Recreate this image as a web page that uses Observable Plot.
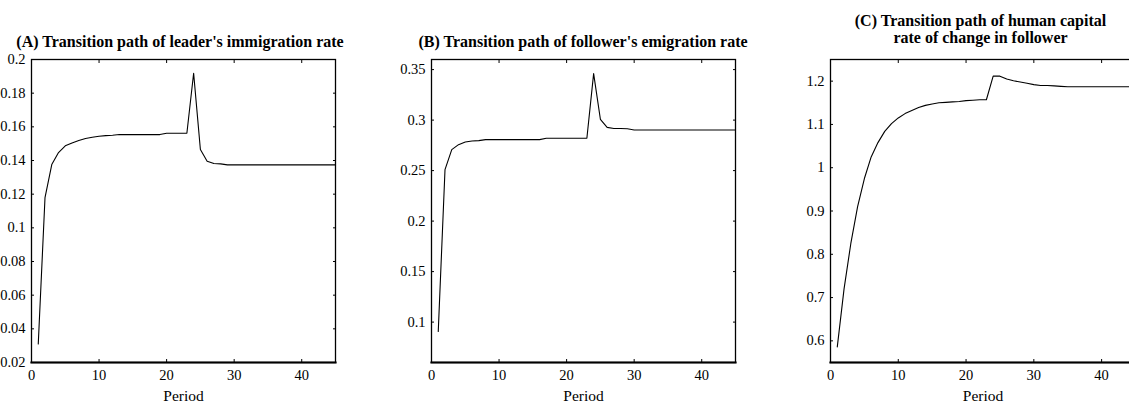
<!DOCTYPE html>
<html>
<head>
<meta charset="utf-8">
<script src="https://cdn.jsdelivr.net/npm/d3@7"></script>
<script src="https://cdn.jsdelivr.net/npm/@observablehq/plot@0.6"></script>
<style>
html, body { margin: 0; padding: 0; background: #fff; }
#wrap { position: relative; width: 1129px; height: 406px; overflow: hidden; background: #fff;
  font-family: "Liberation Serif", "Times New Roman", serif; color: #000; }
.panel { position: absolute; top: 0; }
.title { position: absolute; width: 500px; font-weight: bold; font-size: 16px; line-height: 16.6px;
  text-align: center; white-space: nowrap; font-family: "Liberation Serif", "Times New Roman", serif; }
</style>
</head>
<body>
<div id="wrap"></div>
<script>
// ---- data ----
const periods = d3.range(1, 46);
const xTicks = [0, 10, 20, 30, 40];

const leaderImmigration = [
  0.031, 0.118, 0.1376, 0.1447, 0.1487, 0.1504, 0.1519, 0.1531, 0.1538, 0.1544,
  0.1548, 0.155, 0.1554, 0.1554, 0.1554, 0.1554, 0.1554, 0.1554, 0.1554, 0.1562,
  0.1562, 0.1562, 0.1562, 0.1918, 0.1465, 0.1396, 0.1382, 0.138, 0.1374, 0.1374,
  0.1374, 0.1374, 0.1374, 0.1374, 0.1374, 0.1374, 0.1374, 0.1374, 0.1374, 0.1374,
  0.1374, 0.1374, 0.1374, 0.1374, 0.1374
];
const followerEmigration = [
  0.0908, 0.251, 0.2708, 0.2757, 0.2783, 0.2793, 0.2797, 0.2807, 0.2807, 0.2807,
  0.2807, 0.2807, 0.2807, 0.2807, 0.2807, 0.2807, 0.282, 0.282, 0.282, 0.282,
  0.282, 0.282, 0.282, 0.346, 0.3008, 0.2928, 0.2917, 0.2917, 0.2915, 0.2902,
  0.2902, 0.2902, 0.2902, 0.2902, 0.2902, 0.2902, 0.2902, 0.2902, 0.2902, 0.2902,
  0.2902, 0.2902, 0.2902, 0.2902, 0.2902
];
const humanCapitalChange = [
  0.586, 0.72, 0.825, 0.91, 0.975, 1.025, 1.058, 1.084, 1.102, 1.115,
  1.125, 1.132, 1.139, 1.144, 1.147, 1.15, 1.151, 1.152, 1.153, 1.155,
  1.156, 1.157, 1.157, 1.2115, 1.2115, 1.205, 1.201, 1.198, 1.195, 1.192,
  1.19, 1.19, 1.189, 1.188, 1.187, 1.187, 1.187, 1.187, 1.187, 1.187,
  1.187, 1.187, 1.187, 1.187, 1.187
];

const yTicksA = [0.02, 0.04, 0.06, 0.08, 0.1, 0.12, 0.14, 0.16, 0.18, 0.2];
const yTicksB = [0.1, 0.15, 0.2, 0.25, 0.3, 0.35];
const yTicksC = [0.6, 0.7, 0.8, 0.9, 1, 1.1, 1.2];

const titles = [
  ["(A) Transition path of leader's immigration rate"],
  ["(B) Transition path of follower's emigration rate"],
  ["(C) Transition path of human capital", "rate of change in follower"]
];
const xLabel = "Period";

// ---- drawing ----
const fmt = d3.format("~g");
const wrap = document.getElementById("wrap");

function panel(values, yDomain, yTicks, marginLeft) {
  const data = periods.map((p, i) => ({period: p, value: values[i]}));
  return Plot.plot({
    width: 345, height: 406,
    marginLeft, marginRight: 10, marginTop: 59, marginBottom: 44,
    x: {domain: [0, 45]},
    y: {domain: yDomain},
    style: {fontFamily: "'Liberation Serif', 'Times New Roman', serif", fontSize: "14.5px", color: "black", background: "transparent"},
    marks: [
      Plot.axisX(xTicks, {anchor: "bottom", tickSize: -3, tickPadding: 10, tickFormat: fmt, label: null}),
      Plot.axisX(xTicks, {anchor: "top", tickSize: -3, tickFormat: () => "", label: null}),
      Plot.axisY(yTicks, {anchor: "left", tickSize: -3, tickPadding: 9, tickFormat: fmt, label: null}),
      Plot.axisY(yTicks, {anchor: "right", tickSize: -3, tickFormat: () => "", label: null}),
      Plot.text([xLabel], {frameAnchor: "bottom", dy: 38, fontSize: 15.5, fill: "black"}),
      Plot.lineY(data, {x: "period", y: "value", stroke: "black", strokeWidth: 1.1}),
      Plot.frame({stroke: "black", strokeWidth: 1.3}),
      Plot.frame({anchor: "bottom", stroke: "black", strokeWidth: 2.2})
    ]
  });
}

const specs = [
  {values: leaderImmigration, dom: [0.02, 0.2], ticks: yTicksA, left: 0, ml: 31, tc: 180, tTop: 33.6},
  {values: followerEmigration, dom: [0.06, 0.36], ticks: yTicksB, left: 400, ml: 31, tc: 583, tTop: 33.6},
  {values: humanCapitalChange, dom: [0.55, 1.25], ticks: yTicksC, left: 800, ml: 30, tc: 980.5, tTop: 13.0}
];

specs.forEach((s, i) => {
  const svg = panel(s.values, s.dom, s.ticks, s.ml);
  svg.classList.add("panel");
  svg.style.left = s.left + "px";
  wrap.appendChild(svg);
  const t = document.createElement("div");
  t.className = "title";
  t.style.left = (s.tc - 250) + "px";
  t.style.top = s.tTop + "px";
  t.innerHTML = titles[i].map(l => l.replace(/&/g, "&amp;").replace(/</g, "&lt;")).join("<br>");
  wrap.appendChild(t);
});
</script>
</body>
</html>
